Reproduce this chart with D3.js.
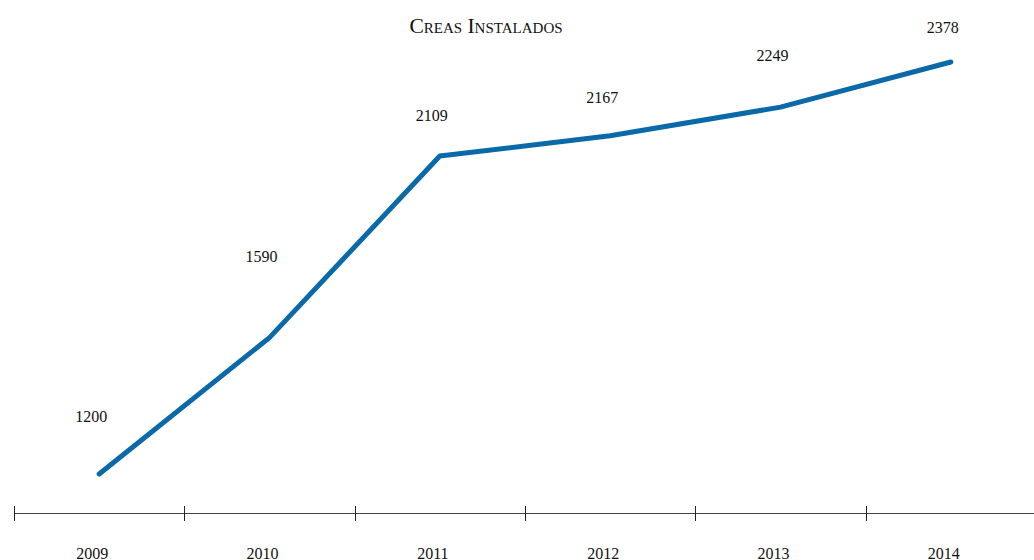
<!DOCTYPE html>
<html>
<head>
<meta charset="utf-8">
<script src="https://cdn.jsdelivr.net/npm/d3@7"></script>
<style>
  body { margin: 0; background: #fff; }
  svg { display: block; font-family: "Liberation Serif", "DejaVu Serif", serif; }
  .title { font-variant: small-caps; font-size: 21.5px; fill: #111; }
  .val { font-size: 16px; fill: #111; }
  .axis text { font-size: 16px; fill: #111; font-family: "Liberation Serif", serif; }
</style>
</head>
<body>
<svg width="1034" height="560"></svg>
<script>
// data
const years = ["2009", "2010", "2011", "2012", "2013", "2014"];
const installed = [1200, 1590, 2109, 2167, 2249, 2378];
// how far each value label sits above its point (px)
const labelLift = [52, 76, 35, 33, 46, 29];

const svg = d3.select("svg"),
    width = +svg.attr("width"),
    height = +svg.attr("height");

const x = d3.scaleBand()
    .domain(years)
    .range([14, 1036]);

const y = d3.scaleLinear()
    .domain([1200, 2378])
    .range([474, 62]);

const rows = years.map((yr, i) => ({ year: yr, value: installed[i], lift: labelLift[i] }));

// title
svg.append("text")
    .attr("class", "title")
    .attr("x", 486)
    .attr("y", 33)
    .attr("text-anchor", "middle")
    .text("Creas Instalados");

// x axis: a long rule with ticks at band edges, labels under band centres
const axis = svg.append("g").attr("class", "axis");

axis.append("line")
    .attr("x1", x.range()[0])
    .attr("x2", width)
    .attr("y1", 513.5)
    .attr("y2", 513.5)
    .attr("stroke", "#444")
    .attr("stroke-width", 1.2);

axis.selectAll(".tick")
    .data(years)
    .join("line")
    .attr("class", "tick")
    .attr("x1", d => Math.round(x(d)) + 0.5)
    .attr("x2", d => Math.round(x(d)) + 0.5)
    .attr("y1", 506)
    .attr("y2", 521)
    .attr("stroke", "#222")
    .attr("stroke-width", 1);

axis.selectAll(".lab")
    .data(years)
    .join("text")
    .attr("class", "lab")
    .attr("x", d => x(d) + x.bandwidth() / 2 - 7)
    .attr("y", 559)
    .attr("text-anchor", "middle")
    .text(d => d);

// the line
const line = d3.line()
    .x(d => x(d.year) + x.bandwidth() / 2)
    .y(d => y(d.value));

svg.append("path")
    .datum(rows)
    .attr("d", line)
    .attr("fill", "none")
    .attr("stroke", "#0a69a8")
    .attr("stroke-width", 5)
    .attr("stroke-linecap", "round")
    .attr("stroke-linejoin", "round");

// value labels
svg.selectAll(".val")
    .data(rows)
    .join("text")
    .attr("class", "val")
    .attr("x", d => x(d.year) + x.bandwidth() / 2 - 8)
    .attr("y", d => y(d.value) - d.lift)
    .attr("text-anchor", "middle")
    .text(d => d.value);
</script>
</body>
</html>
